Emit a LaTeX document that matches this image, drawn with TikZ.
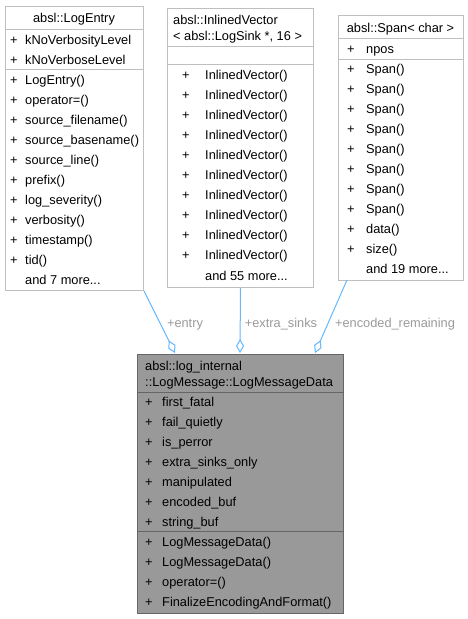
\documentclass[tikz,border=0pt]{standalone}
\usepackage{fontspec}
\setmainfont{Liberation Sans}
\usetikzlibrary{arrows.meta}
\definecolor{edgeblue}{HTML}{63B8FF}
\definecolor{lblgray}{HTML}{9A9A9A}
\definecolor{boxline}{HTML}{BFBFBF}
\definecolor{mainfill}{HTML}{999999}
\definecolor{mainline}{HTML}{666666}
\begin{document}
\begin{tikzpicture}[x=1pt,y=-1pt,
  font=\fontsize{12.8}{15}\selectfont,
  txt/.style={anchor=base west, inner sep=0pt, text=black},
  ctxt/.style={anchor=base, inner sep=0pt, text=black},
  umlbox/.style={draw=boxline, fill=white, line width=1pt, anchor=north west, inner sep=0pt},
  mainbox/.style={draw=mainline, fill=mainfill, line width=1pt, anchor=north west, inner sep=0pt},
  sepline/.style={draw=boxline, line width=1pt},
  mainsep/.style={draw=mainline, line width=1pt},
  aggr/.style={draw=edgeblue, line width=1pt, -{Diamond[open, length=14pt, width=8pt, fill=white]}},
  elabel/.style={anchor=base, inner sep=0pt, text=lblgray}]
\useasboundingbox (0,0) rectangle (468,619);

% ---------- absl::LogEntry ----------
\node[umlbox, minimum width=138pt, minimum height=284pt] (le) at (5,6) {};
\draw[sepline] (5,29) -- (143,29);
\draw[sepline] (5,69) -- (143,69);
\node[ctxt] (le-title) at (74,22.5) {absl::LogEntry};
\foreach \t [count=\i] in {kNoVerbosityLevel,kNoVerboseLevel}{
  \node[txt] (le-ap\i) at (10,{44.5+20*(\i-1)}) {+};
  \node[txt] (le-a\i) at (25,{44.5+20*(\i-1)}) {\t};
}
\foreach \t [count=\i] in {LogEntry(),operator=(),source\_filename(),source\_basename(),source\_line(),prefix(),log\_severity(),verbosity(),timestamp(),tid()}{
  \node[txt] (le-mp\i) at (10,{84.5+20*(\i-1)}) {+};
  \node[txt] (le-m\i) at (25,{84.5+20*(\i-1)}) {\t};
}
\node[txt] (le-more) at (25,284.5) {and 7 more...};

% ---------- absl::InlinedVector ----------
\node[umlbox, minimum width=146pt, minimum height=279pt] (iv) at (167,8) {};
\draw[sepline] (167,46) -- (313,46);
\draw[sepline] (167,64) -- (313,64);
\node[txt] (iv-t1) at (173,24.5) {absl::InlinedVector};
\node[txt] (iv-t2) at (173,40.5) {< absl::LogSink *, 16 >};
\foreach \i in {1,...,10}{
  \node[txt] (iv-mp\i) at (182,{79.5+20*(\i-1)}) {+};
  \node[txt] (iv-m\i) at (205,{79.5+20*(\i-1)}) {InlinedVector()};
}
\node[txt] (iv-more) at (205,280.5) {and 55 more...};

% ---------- absl::Span< char > ----------
\node[umlbox, minimum width=125pt, minimum height=265pt] (sp) at (338,15) {};
\draw[sepline] (338,38) -- (463,38);
\draw[sepline] (338,59) -- (463,59);
\node[ctxt] (sp-title) at (400.5,32.5) {absl::Span< char >};
\node[txt] (sp-ap) at (347,53.5) {+};
\node[txt] (sp-a) at (366,53.5) {npos};
\foreach \t [count=\i] in {Span(),Span(),Span(),Span(),Span(),Span(),Span(),Span(),data(),size()}{
  \node[txt] (sp-mp\i) at (347,{73.5+20*(\i-1)}) {+};
  \node[txt] (sp-m\i) at (366,{73.5+20*(\i-1)}) {\t};
}
\node[txt] (sp-more) at (366,273.5) {and 19 more...};

% ---------- LogMessageData ----------
\node[mainbox, minimum width=206pt, minimum height=259pt] (msg) at (137,354) {};
\draw[mainsep] (137,392) -- (343,392);
\draw[mainsep] (137,531) -- (343,531);
\node[txt] (msg-t1) at (145,370.5) {absl::log\_internal};
\node[txt] (msg-t2) at (145,386.5) {::LogMessage::LogMessageData};
\foreach \t [count=\i] in {first\_fatal,fail\_quietly,is\_perror,extra\_sinks\_only,manipulated,encoded\_buf,string\_buf}{
  \node[txt] (msg-ap\i) at (145,{406.5+20*(\i-1)}) {+};
  \node[txt] (msg-a\i) at (162,{406.5+20*(\i-1)}) {\t};
}
\foreach \t [count=\i] in {LogMessageData(),LogMessageData(),operator=(),FinalizeEncodingAndFormat()}{
  \node[txt] (msg-mp\i) at (145,{546.5+20*(\i-1)}) {+};
  \node[txt] (msg-m\i) at (162,{546.5+20*(\i-1)}) {\t};
}

% ---------- connectors ----------
\coordinate (e1) at (175,353);
\coordinate (e2) at (240,353);
\coordinate (s3) at (347,280);
\coordinate (e3) at (315,353);
\draw[aggr] (le.south east) -- (e1);
\draw[aggr] (iv.south) -- (e2);
\draw[aggr] (s3) -- (e3);
\node[elabel] (l1) at (185,327.5) {+entry};
\node[elabel] (l2) at (281,327.5) {+extra\_sinks};
\node[elabel] (l3) at (395,327.5) {+encoded\_remaining};
\end{tikzpicture}
\end{document}
